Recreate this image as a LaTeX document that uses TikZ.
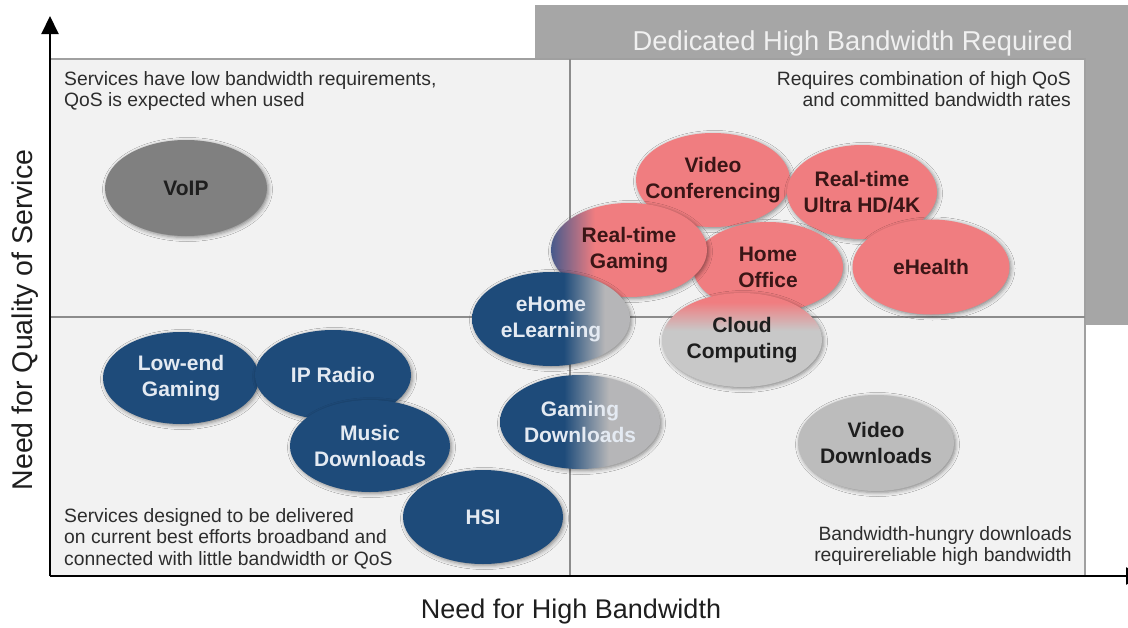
\documentclass[tikz,border=0pt]{standalone}
\usepackage{fontspec}
\setmainfont{Liberation Sans}
\usetikzlibrary{shapes.geometric,arrows.meta,shadows.blur}
\definecolor{navy}{RGB}{30,75,122}
\definecolor{navymix}{RGB}{70,90,140}
\definecolor{pinkc}{RGB}{240,125,128}
\definecolor{gradgray}{RGB}{182,182,184}
\definecolor{cloudgray}{RGB}{200,200,200}
\definecolor{voipgray}{RGB}{128,128,128}
\definecolor{vidgray}{RGB}{188,188,188}
\definecolor{panelbg}{RGB}{242,242,242}
\definecolor{panelline}{RGB}{160,160,160}
\definecolor{midline}{RGB}{140,140,140}
\definecolor{bannergray}{RGB}{166,166,166}
\definecolor{bannertext}{RGB}{240,240,240}
\definecolor{lighttext}{RGB}{228,234,242}
\definecolor{pinktext}{RGB}{58,22,22}
\definecolor{darktext}{RGB}{30,30,30}
\definecolor{notetext}{RGB}{45,45,45}
\pgfdeclarehorizontalshading{navygray}{100bp}{color(0bp)=(navy); color(54bp)=(navy); color(67bp)=(gradgray); color(100bp)=(gradgray)}
\pgfdeclarehorizontalshading{navygrayb}{100bp}{color(0bp)=(navy); color(45bp)=(navy); color(59bp)=(gradgray); color(100bp)=(gradgray)}
\pgfdeclarehorizontalshading{navypink}{100bp}{color(0bp)=(navy); color(25bp)=(navymix); color(39bp)=(pinkc); color(100bp)=(pinkc)}
\pgfdeclareverticalshading{pinkgray}{100bp}{color(0bp)=(cloudgray); color(55bp)=(cloudgray); color(70bp)=(pinkc); color(100bp)=(pinkc)}
\newcommand\bubfont{\fontsize{21}{26}\selectfont\bfseries}
\newcommand\notefont{\fontsize{19.3}{21.5}\selectfont}
\newcommand\axisfont{\fontsize{27}{30}\selectfont}
\tikzset{
  bub/.style={ellipse, inner xsep=-40pt, inner ysep=0pt, align=center, font=\bubfont,
    blur shadow={shadow xshift=1.5pt, shadow yshift=-1.5pt, shadow blur radius=4pt, shadow opacity=45}},
  navybub/.style={bub, fill=navy, text=lighttext},
  pinkbub/.style={bub, fill=pinkc, text=pinktext},
  note/.style={font=\notefont, text=notetext, inner sep=0pt},
  axisline/.style={line width=2pt, black},
  midrule/.style={line width=1.2pt, midline}
}
\begin{document}
\begin{tikzpicture}[x=1pt,y=-1pt]
\useasboundingbox (0,0) rectangle (1128,627);
% banner and panel
\fill[bannergray] (535,5) rectangle (1128,325);
\node[font=\fontsize{27.3}{30}\selectfont, text=bannertext, anchor=base east, inner sep=0pt] (banner) at (1073,50) {Dedicated High Bandwidth Required};
\fill[panelbg] (50,59) rectangle (1085,576);
\draw[panelline, line width=2.5pt] (50,59) -- (1085,59) -- (1085,576);
\draw[midrule] (570,59) -- (570,576);
\draw[midrule] (50,317) -- (1085,317);
% notes
\node[note, anchor=north west, align=left] (n1) at (64,71) {Services have low bandwidth requirements,\\QoS is expected when used};
\node[note, anchor=north east, align=right] (n2) at (1071,71) {Requires combination of high QoS\\and committed bandwidth rates};
\node[note, anchor=north west, align=left] (n3) at (64,508) {Services designed to be delivered\\on current best efforts broadband and\\connected with little bandwidth or QoS};
\node[note, anchor=north east, align=right] (n4) at (1072,526) {Bandwidth-hungry downloads\\requirereliable high bandwidth};
% upper right cluster
\node[pinkbub, minimum width=154pt, minimum height=94pt] (vc) at (713,180) {Video\\Conferencing};
\node[pinkbub, minimum width=150pt, minimum height=94pt] (uhd) at (862,192) {Real-time\\Ultra HD/4K};
\node[pinkbub, minimum width=150pt, minimum height=90pt] (ho) at (768,267) {Home\\Office};
\node[pinkbub, minimum width=157pt, minimum height=95pt] (eh) at (931,267) {eHealth};
\node[bub, shading=navypink, text=pinktext, minimum width=156pt, minimum height=94pt] (rtg) at (629,250) {Real-time\\Gaming};
\node[bub, shading=pinkgray, text=darktext, minimum width=160pt, minimum height=94pt] (cc) at (742,340) {Cloud\\Computing};
\node[bub, shading=navygray, text=lighttext, minimum width=158pt, minimum height=94pt] (ehome) at (551,319) {eHome\\eLearning};
\node[bub, shading=navygrayb, text=lighttext, minimum width=160pt, minimum height=94pt] (gd) at (580,422) {Gaming\\Downloads};
% lower left cluster
\node[navybub, minimum width=156pt, minimum height=92pt] (leg) at (181,378) {Low-end\\Gaming};
\node[navybub, minimum width=156pt, minimum height=90pt] (ipr) at (333,375) {IP Radio};
\node[navybub, minimum width=160pt, minimum height=92pt] (md) at (370,446) {Music\\Downloads};
\node[navybub, minimum width=160pt, minimum height=94pt] (hsi) at (483,517) {HSI};
% gray ones
\node[bub, fill=voipgray, text=darktext, minimum width=162pt, minimum height=96pt] (voip) at (186,188) {VoIP};
\node[bub, fill=vidgray, text=darktext, minimum width=156pt, minimum height=96pt] (vd) at (876,443) {Video\\Downloads};
% axes
\coordinate (origin) at (50,576);
\coordinate (ytop) at (50,16);
\coordinate (xend) at (1144,576);
\draw[axisline, -{Triangle[length=18pt,width=17pt]}] (origin) -- (ytop);
\draw[axisline, -{Triangle[length=18pt,width=17pt]}] (origin) -- (xend);
\node[font=\axisfont, text=darktext] (xlab) at (571,612) {Need for High Bandwidth};
\node[font=\fontsize{28.5}{30}\selectfont, text=darktext, rotate=90] (ylab) at (25,320) {Need for Quality of Service};
\end{tikzpicture}
\end{document}
